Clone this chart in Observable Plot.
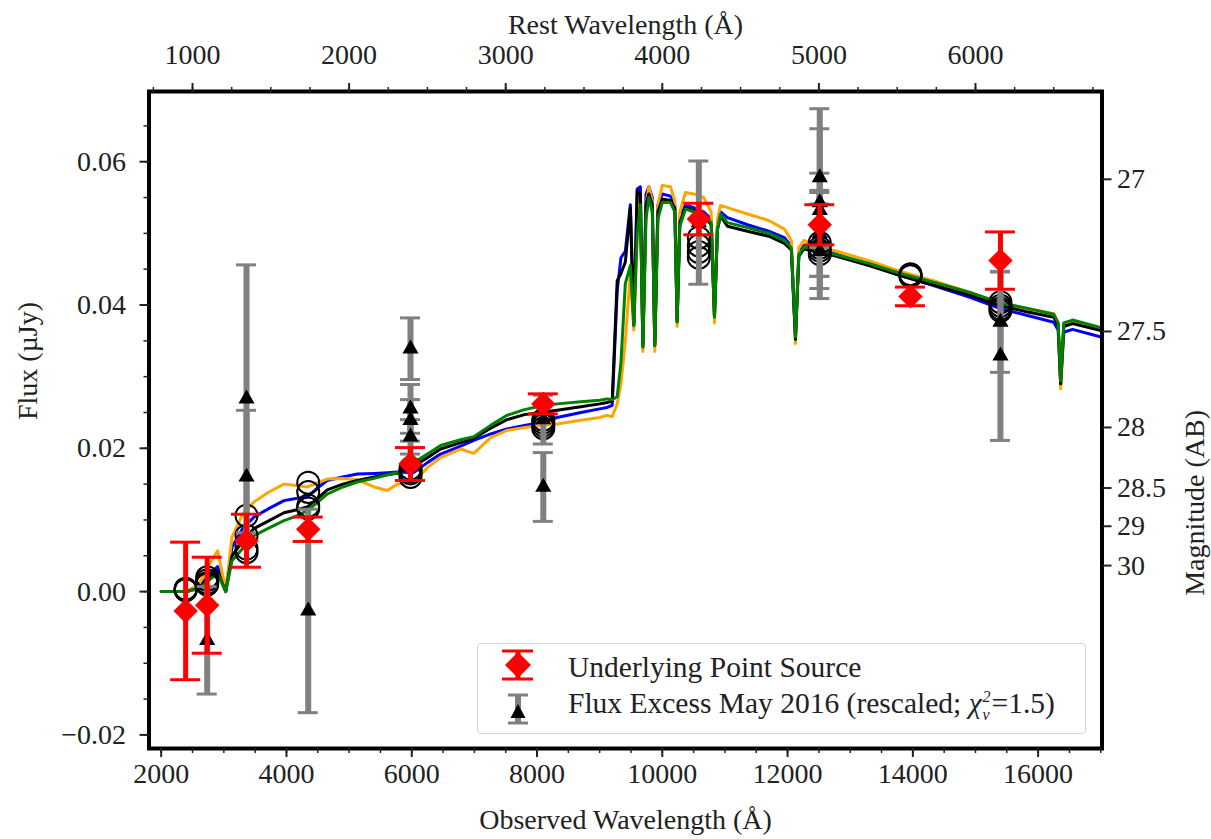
<!DOCTYPE html>
<html>
<head>
<meta charset="utf-8">
<script src="https://cdn.jsdelivr.net/npm/d3@7"></script>
<script src="https://cdn.jsdelivr.net/npm/@observablehq/plot@0.6"></script>
<style>
  html, body { margin: 0; padding: 0; background: #fff; }
  #wrap { position: relative; width: 1211px; height: 839px; font-family: "Liberation Serif", serif; color: #222; }
  #legend { position: absolute; left: 477px; top: 643px; width: 607px; height: 89px;
            border: 1.5px solid #d4d4d4; border-radius: 4px; background: rgba(255,255,255,0.85); }
  #legend .lab { position: absolute; left: 90px; font-size: 29.5px; white-space: nowrap; line-height: 36px; }
  .ss { display: inline-block; font-size: 16px; line-height: 18px; vertical-align: -7px; font-style: italic; margin: 0 1px; text-align: left; }
</style>
</head>
<body>
<div id="wrap"></div>
<script>
// ---------------- data ----------------
const z = 1.5;                    // redshift linking observed and rest wavelength
const magZeroPoint = 23.9;        // AB magnitude of 1 µJy

// model SED wavelength grid (observed Å)
const sedWave = [2000, 2400, 2600, 2750, 2900, 3030, 3130, 3300, 3480, 3700, 3960, 4150, 4330, 4500, 4650, 4900, 5130, 5400, 5610, 5770, 6030, 6250, 6460, 6780, 6990, 7260, 7520, 7800, 8060, 8320, 8700, 9000, 9120, 9200, 9280, 9340, 9410, 9490, 9545, 9600, 9650, 9690, 9740, 9785, 9840, 9880, 9930, 10000, 10130, 10200, 10237, 10280, 10370, 10500, 10660, 10780, 10833, 10880, 10930, 11040, 11360, 11700, 11950, 12060, 12126, 12180, 12260, 12740, 13300, 13800, 14330, 14900, 15400, 15800, 16250, 16320, 16360, 16410, 16550, 17020];

const sedBlue = [0.0000, 0.0000, 0.0006, 0.0022, 0.0035, 0.0001, 0.0062, 0.0088, 0.0104, 0.0115, 0.0127, 0.0130, 0.0132, 0.0145, 0.0155, 0.0160, 0.0164, 0.0165, 0.0166, 0.0167, 0.0166, 0.0180, 0.0192, 0.0203, 0.0211, 0.0220, 0.0227, 0.0232, 0.0236, 0.0243, 0.0250, 0.0255, 0.0257, 0.0260, 0.0420, 0.0466, 0.0475, 0.0540, 0.0375, 0.0562, 0.0565, 0.0345, 0.0555, 0.0565, 0.0550, 0.0345, 0.0540, 0.0555, 0.0552, 0.0540, 0.0378, 0.0520, 0.0540, 0.0536, 0.0530, 0.0520, 0.0385, 0.0510, 0.0530, 0.0522, 0.0512, 0.0503, 0.0494, 0.0482, 0.0355, 0.0472, 0.0483, 0.0472, 0.0456, 0.0441, 0.0427, 0.0411, 0.0395, 0.0386, 0.0376, 0.0365, 0.0290, 0.0362, 0.0366, 0.0355];

const sedOrange = [0.0000, 0.0000, 0.0010, 0.0035, 0.0057, 0.0002, 0.0076, 0.0108, 0.0125, 0.0138, 0.0150, 0.0148, 0.0146, 0.0152, 0.0157, 0.0158, 0.0156, 0.0146, 0.0141, 0.0150, 0.0153, 0.0173, 0.0187, 0.0199, 0.0193, 0.0215, 0.0225, 0.0229, 0.0232, 0.0234, 0.0239, 0.0243, 0.0246, 0.0244, 0.0262, 0.0290, 0.0350, 0.0445, 0.0365, 0.0505, 0.0550, 0.0335, 0.0540, 0.0565, 0.0545, 0.0335, 0.0540, 0.0567, 0.0565, 0.0545, 0.0370, 0.0530, 0.0557, 0.0555, 0.0550, 0.0530, 0.0375, 0.0520, 0.0539, 0.0536, 0.0527, 0.0518, 0.0506, 0.0490, 0.0346, 0.0480, 0.0490, 0.0476, 0.0462, 0.0447, 0.0434, 0.0418, 0.0402, 0.0395, 0.0388, 0.0375, 0.0283, 0.0370, 0.0377, 0.0367];

const sedBlack = [0.0000, 0.0000, 0.0005, 0.0018, 0.0028, 0.0000, 0.0050, 0.0070, 0.0088, 0.0098, 0.0110, 0.0114, 0.0118, 0.0130, 0.0142, 0.0150, 0.0155, 0.0160, 0.0163, 0.0165, 0.0175, 0.0187, 0.0199, 0.0208, 0.0214, 0.0228, 0.0240, 0.0247, 0.0250, 0.0253, 0.0258, 0.0262, 0.0264, 0.0266, 0.0434, 0.0444, 0.0460, 0.0536, 0.0372, 0.0560, 0.0555, 0.0342, 0.0540, 0.0555, 0.0540, 0.0344, 0.0530, 0.0548, 0.0546, 0.0535, 0.0377, 0.0515, 0.0536, 0.0532, 0.0526, 0.0512, 0.0384, 0.0505, 0.0524, 0.0510, 0.0503, 0.0496, 0.0486, 0.0477, 0.0352, 0.0468, 0.0478, 0.0469, 0.0455, 0.0441, 0.0428, 0.0414, 0.0399, 0.0391, 0.0383, 0.0371, 0.0290, 0.0370, 0.0374, 0.0364];

const sedGreen = [0.0000, 0.0000, 0.0004, 0.0015, 0.0025, 0.0000, 0.0043, 0.0060, 0.0078, 0.0088, 0.0099, 0.0105, 0.0113, 0.0125, 0.0136, 0.0146, 0.0153, 0.0158, 0.0163, 0.0166, 0.0180, 0.0192, 0.0204, 0.0212, 0.0216, 0.0232, 0.0246, 0.0254, 0.0259, 0.0262, 0.0265, 0.0267, 0.0269, 0.0268, 0.0272, 0.0320, 0.0430, 0.0455, 0.0371, 0.0500, 0.0540, 0.0341, 0.0520, 0.0550, 0.0530, 0.0343, 0.0520, 0.0543, 0.0543, 0.0530, 0.0376, 0.0510, 0.0534, 0.0530, 0.0527, 0.0515, 0.0383, 0.0505, 0.0527, 0.0515, 0.0508, 0.0500, 0.0490, 0.0480, 0.0355, 0.0470, 0.0481, 0.0471, 0.0458, 0.0444, 0.0432, 0.0418, 0.0403, 0.0396, 0.0387, 0.0375, 0.0294, 0.0375, 0.0379, 0.0368];

// model photometry (open circles)
const photWave = [2390, 2390, 2390, 2390, 2734, 2734, 2734, 2734, 3362, 3362, 3362, 3362, 4347, 4347, 4347, 4347, 5980, 5980, 5980, 5980, 8100, 8100, 8100, 8100, 10583, 10583, 10583, 10583, 12514, 12514, 12514, 12514, 13962, 13962, 13962, 13962, 15399, 15399, 15399, 15399];
const photFlux = [0.0004, 0.0003, 0.0002, 0.0003, 0.0020, 0.0016, 0.0012, 0.0010, 0.0106, 0.0078, 0.0055, 0.0060, 0.0152, 0.0139, 0.0120, 0.0116, 0.0172, 0.0168, 0.0165, 0.0160, 0.0240, 0.0236, 0.0232, 0.0228, 0.0494, 0.0483, 0.0474, 0.0466, 0.0487, 0.0480, 0.0476, 0.0471, 0.0443, 0.0442, 0.0441, 0.0440, 0.0404, 0.0399, 0.0395, 0.0392];

// underlying point source (red diamonds)
const psWave = [2390, 2734, 3362, 4347, 5980, 8100, 10583, 12514, 13962, 15399];
const psFlux = [-0.0027, -0.0019, 0.0071, 0.0087, 0.0178, 0.0262, 0.0520, 0.0512, 0.0412, 0.0462];
const psErr  = [0.0096, 0.0067, 0.0037, 0.0017, 0.0023, 0.0014, 0.0022, 0.0028, 0.0013, 0.0040];

// flux excess May 2016, rescaled (black triangles, grey error bars)
const exWave = [2734, 3362, 3362, 4347, 5980, 5980, 5980, 5980, 8100, 8100, 10583, 12514, 12514, 12514, 12514, 12514, 12514, 15399, 15399];
const exFlux = [-0.0068, 0.0269, 0.0160, -0.0027, 0.0339, 0.0255, 0.0239, 0.0216, 0.0146, 0.0240, 0.0515, 0.0578, 0.0543, 0.0532, 0.0500, 0.0490, 0.0475, 0.0376, 0.0329];
const exErr  = [0.0075, 0.0187, 0.0093, 0.0142, 0.0043, 0.0034, 0.0029, 0.0024, 0.0048, 0.0034, 0.0086, 0.0096, 0.0103, 0.0052, 0.0060, 0.0067, 0.0066, 0.0070, 0.0118];

// axis ticks
const xTicks = [2000, 4000, 6000, 8000, 10000, 12000, 14000, 16000];
const restTicks = [1000, 2000, 3000, 4000, 5000, 6000];
const yTicks = [-0.02, 0.00, 0.02, 0.04, 0.06];
const magTicks = [27, 27.5, 28, 28.5, 29, 30];

// ---------------- build ----------------
const sed = (arr) => sedWave.map((w, i) => ({w, f: arr[i]}));
const phot = photWave.map((w, i) => ({w, f: photFlux[i]}));
const ps = psWave.map((w, i) => ({w, f: psFlux[i], lo: psFlux[i] - psErr[i], hi: psFlux[i] + psErr[i]}));
const ex = exWave.map((w, i) => ({w, f: exFlux[i], lo: exFlux[i] - exErr[i], hi: exFlux[i] + exErr[i]}));

const xMinor = d3.range(2000, 17001, 500);
const restMinor = d3.range(750, 6801, 250).map(r => r * (1 + z));
const yMinor = d3.range(-0.02, 0.0651, 0.005);
const magToFlux = m => Math.pow(10, (magZeroPoint - m) / 2.5);
const fluxToMag = f => magZeroPoint - 2.5 * Math.log10(f);

const font = "'Liberation Serif', serif";
const FS = 28;
const grey = "#808080";

const chart = Plot.plot({
  width: 1211,
  height: 839,
  marginLeft: 148.5,
  marginRight: 109.5,
  marginTop: 91,
  marginBottom: 91,
  x: {domain: [1805, 17020]},
  y: {domain: [-0.0219, 0.0698]},
  style: {fontFamily: font, background: "white", color: "#222", overflow: "visible"},
  marks: [
    Plot.line(sed(sedBlue),   {x: "w", y: "f", stroke: "blue",   strokeWidth: 3, strokeLinejoin: "round"}),
    Plot.line(sed(sedOrange), {x: "w", y: "f", stroke: "orange", strokeWidth: 3, strokeLinejoin: "round"}),
    Plot.line(sed(sedBlack),  {x: "w", y: "f", stroke: "black",  strokeWidth: 3, strokeLinejoin: "round"}),
    Plot.line(sed(sedGreen),  {x: "w", y: "f", stroke: "green",  strokeWidth: 3, strokeLinejoin: "round"}),
    Plot.dot(phot, {x: "w", y: "f", r: 11, stroke: "black", strokeWidth: 2, fill: "none"}),
    // grey error bars + caps
    Plot.ruleX(ex, {x: "w", y1: "lo", y2: "hi", stroke: grey, strokeWidth: 6}),
    Plot.ruleY(ex, {y: "hi", x1: "w", x2: "w", insetLeft: -10, insetRight: -10, stroke: grey, strokeWidth: 3}),
    Plot.ruleY(ex, {y: "lo", x1: "w", x2: "w", insetLeft: -10, insetRight: -10, stroke: grey, strokeWidth: 3}),
    Plot.dot(ex, {x: "w", y: "f", symbol: "triangle", r: 6, fill: "black", stroke: "none"}),
    // red error bars + caps
    Plot.ruleX(ps, {x: "w", y1: "lo", y2: "hi", stroke: "red", strokeWidth: 5}),
    Plot.ruleY(ps, {y: "hi", x1: "w", x2: "w", insetLeft: -15, insetRight: -15, stroke: "red", strokeWidth: 3}),
    Plot.ruleY(ps, {y: "lo", x1: "w", x2: "w", insetLeft: -15, insetRight: -15, stroke: "red", strokeWidth: 3}),
    Plot.dot(ps, {x: "w", y: "f", symbol: "diamond2", r: 11, fill: "red", stroke: "none"}),
    Plot.frame({stroke: "black", strokeWidth: 4}),
    // bottom axis
    Plot.axisX(xMinor, {anchor: "bottom", tickSize: 5, strokeWidth: 1.5, tickFormat: () => "", label: null}),
    Plot.axisX(xTicks, {anchor: "bottom", tickSize: 9, strokeWidth: 2, tickPadding: 6, fontSize: FS, tickFormat: d => String(d), label: null}),
    // top axis (rest wavelength)
    Plot.axisX(restMinor, {anchor: "top", tickSize: 5, strokeWidth: 1.5, tickFormat: () => "", label: null}),
    Plot.axisX(restTicks.map(r => r * (1 + z)), {anchor: "top", tickSize: 9, strokeWidth: 2, tickPadding: 19, fontSize: FS, tickFormat: d => String(Math.round(d / (1 + z))), label: null}),
    // left axis
    Plot.axisY(yMinor, {anchor: "left", tickSize: 5, strokeWidth: 1.5, tickFormat: () => "", label: null}),
    Plot.axisY(yTicks, {anchor: "left", tickSize: 9, strokeWidth: 2, tickPadding: 14, fontSize: FS, tickFormat: d3.format(".2f"), label: null}),
    // right axis (AB magnitude)
    Plot.axisY(magTicks.map(magToFlux), {anchor: "right", tickSize: 9, strokeWidth: 2, tickPadding: 6, fontSize: FS, tickFormat: f => String(+fluxToMag(f).toFixed(1)), label: null}),
    // axis titles
    Plot.text(["Observed Wavelength (Å)"], {frameAnchor: "bottom", dy: 72, fontSize: FS, lineAnchor: "middle"}),
    Plot.text(["Rest Wavelength (Å)"], {frameAnchor: "top", dy: -66, fontSize: FS, lineAnchor: "middle"}),
    Plot.text(["Flux (µJy)"], {frameAnchor: "left", dx: -121, rotate: -90, fontSize: FS, lineAnchor: "middle"}),
    Plot.text(["Magnitude (AB)"], {frameAnchor: "right", dx: 93, dy: -10, rotate: -90, fontSize: FS, lineAnchor: "middle"})
  ]
});

const wrap = document.getElementById("wrap");
wrap.appendChild(chart);

// legend
const legend = document.createElement("div");
legend.id = "legend";
legend.innerHTML = `
  <svg width="90" height="89" style="position:absolute;left:0;top:0">
    <line x1="40" x2="40" y1="7" y2="35" stroke="red" stroke-width="5"/>
    <line x1="24" x2="55" y1="7" y2="7" stroke="red" stroke-width="3"/>
    <line x1="24" x2="55" y1="35" y2="35" stroke="red" stroke-width="3"/>
    <path d="M40,8 L53,21 L40,34 L27,21 Z" fill="red"/>
    <line x1="40" x2="40" y1="51" y2="79" stroke="${grey}" stroke-width="6"/>
    <line x1="30" x2="50" y1="51" y2="51" stroke="${grey}" stroke-width="3"/>
    <line x1="30" x2="50" y1="79" y2="79" stroke="${grey}" stroke-width="3"/>
    <path d="M40,60 L47.5,74 L32.5,74 Z" fill="black"/>
  </svg>
  <div class="lab" style="top:5px">Underlying Point Source</div>
  <div class="lab" style="top:41px">Flux Excess May 2016 (rescaled; <i>χ</i><span class="ss">2<br>ν</span>=1.5)</div>
`;
wrap.appendChild(legend);
</script>
</body>
</html>
